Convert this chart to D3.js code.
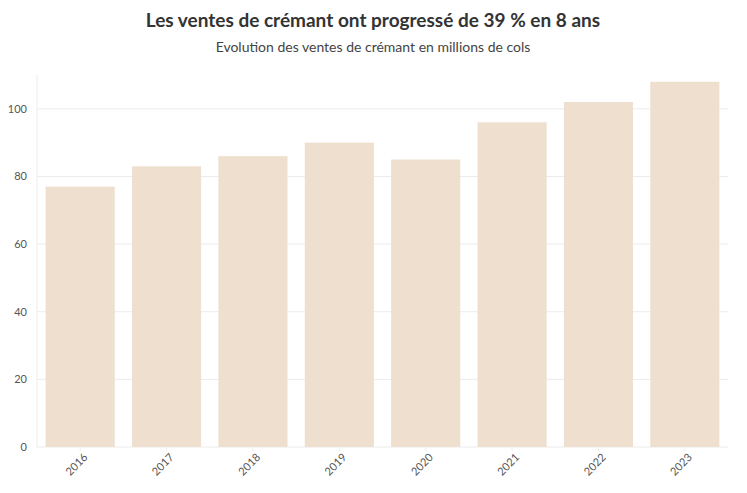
<!DOCTYPE html>
<html><head><meta charset="utf-8">
<script src="https://cdn.jsdelivr.net/npm/d3@7"></script>
<style>body{margin:0;background:#fff;font-family:Lato,"Open Sans",sans-serif;}</style>
</head><body><svg id="c" width="747" height="493"></svg>
<script>
const years = ["2016","2017","2018","2019","2020","2021","2022","2023"];
const sales = [77,83,86,90,85,96,102,108];
const yTicks = [0,20,40,60,80,100];

const svg = d3.select("#c");
const m = {l:37, r:19, t:75, b:46};
const W = 747, H = 493;
const x = d3.scaleBand().domain(years).range([m.l, W-m.r]).paddingInner(0.2).paddingOuter(0.1);
const y = d3.scaleLinear().domain([0,110]).range([H-m.b, m.t]);

svg.append("text").attr("x",373).attr("y",27).attr("text-anchor","middle")
  .style("font-size","19px").style("font-weight","bold").style("fill","#333")
  .text("Les ventes de crémant ont progressé de 39 % en 8 ans");
svg.append("text").attr("x",373).attr("y",52).attr("text-anchor","middle")
  .style("font-size","14px").style("fill","#444")
  .text("Evolution des ventes de crémant en millions de cols");

// grid
svg.append("g").selectAll("line").data(yTicks).join("line")
  .attr("x1",m.l).attr("x2",W-m.r).attr("y1",d=>y(d)).attr("y2",d=>y(d))
  .attr("stroke","#ececec").attr("stroke-width",1);
svg.append("line").attr("x1",m.l).attr("x2",m.l).attr("y1",m.t).attr("y2",y(0))
  .attr("stroke","#ececec");

svg.append("g").selectAll("rect").data(years).join("rect")
  .attr("x",d=>x(d)).attr("width",x.bandwidth())
  .attr("y",(d,i)=>y(sales[i])).attr("height",(d,i)=>y(0)-y(sales[i]))
  .attr("fill","#eedfcf");

const ya = svg.append("g").attr("transform",`translate(${m.l},0)`)
  .call(d3.axisLeft(y).tickValues(yTicks).tickSize(0).tickPadding(10));
ya.select(".domain").remove();
ya.selectAll("text").style("font-size","11px").style("fill","#555").style("font-family","Lato,'Open Sans',sans-serif");

const xa = svg.append("g").attr("transform",`translate(0,${y(0)})`)
  .call(d3.axisBottom(x).tickSize(4).tickPadding(4));
xa.select(".domain").remove();
xa.selectAll("line").attr("stroke","#eee");
xa.selectAll("text").style("font-size","11px").style("fill","#555").style("font-family","Lato,'Open Sans',sans-serif")
  .attr("text-anchor","end").attr("dx","-0.2em").attr("dy","0.5em")
  .attr("transform","rotate(-45)");
</script></body></html>
